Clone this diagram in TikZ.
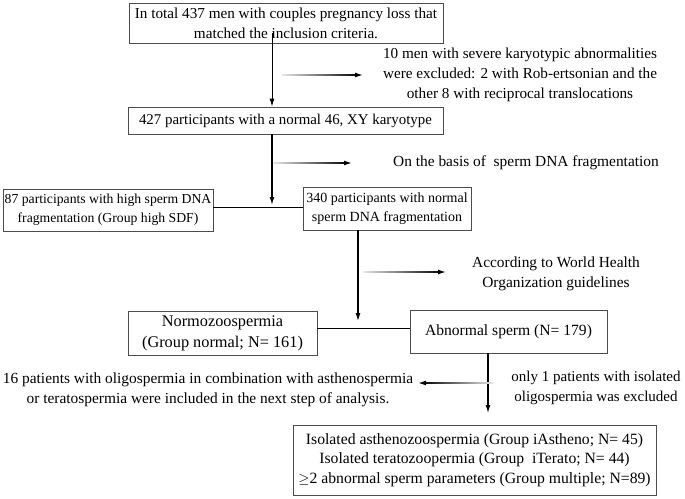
\documentclass[tikz,border=0pt]{standalone}
\usepackage{fontspec}
\setmainfont{Liberation Serif}
\usetikzlibrary{arrows.meta,calc}
\begin{document}
\begin{tikzpicture}[x=1pt,y=-1pt,
  box/.style={draw=black!70, line width=0.9pt, inner sep=0pt, align=center},
  lbl/.style={inner sep=0pt, align=center},
  fs/.style={font=\fontsize{#1}{20}\selectfont},
  conn/.style={black, line width=0.9pt},
  tip/.style={-{Latex[length=8pt,width=5pt]}}
]
\useasboundingbox (0,0) rectangle (685,498);
% boxes
\node[box, fs=15.2, minimum width=314pt, minimum height=40pt] (b1) at (286,23) {In total 437 men with couples pregnancy loss that\\matched the inclusion criteria.};
\node[box, fs=14.9, minimum width=315pt, minimum height=27pt] (b2) at (285.5,120.5) {427 participants with a normal 46, XY karyotype};
\node[box, font=\fontsize{13.7}{19}\selectfont, minimum width=210pt, minimum height=42pt] (b3) at (108,210) {87 participants with high sperm DNA\\fragmentation (Group high SDF)};
\node[box, font=\fontsize{14}{19.5}\selectfont, minimum width=168pt, minimum height=43pt] (b4) at (387,208.5) {340 participants with normal\\sperm DNA fragmentation};
\node[box, font=\fontsize{16.3}{21}\selectfont, minimum width=189pt, minimum height=44pt] (b5) at (222.5,333) {Normozoospermia\\(Group normal; N= 161)};
\node[box, fs=15.6, minimum width=197pt, minimum height=43pt] (b6) at (508.5,331.5) {Abnormal sperm (N= 179)};
\node[box, font=\fontsize{15.7}{19.5}\selectfont, minimum width=363pt, minimum height=70pt] (b7) at (474.5,460) {Isolated asthenozoospermia (Group iAstheno; N= 45)\\Isolated teratozoopermia (Group~~iTerato; N= 44)\\$\geq$2 abnormal sperm parameters (Group multiple; N=89)};
% labels
\node[lbl, fs=15.2] (t1) at (520,75) {10 men with severe karyotypic abnormalities\\were excluded: 2 with Rob-ertsonian and the\\other 8 with reciprocal translocations};
\node[lbl, fs=15.4] (t2) at (526,163) {On the basis of~~sperm DNA fragmentation};
\node[lbl, fs=15.4] (t3) at (556,274) {According to World Health\\Organization guidelines};
\node[lbl, fs=15.4] (t4) at (208,390) {16 patients with oligospermia in combination with asthenospermia\\or teratospermia were included in the next step of analysis.};
\node[lbl, fs=15] (t5) at (596,388) {only 1 patients with isolated\\oligospermia was excluded};
% coordinates
\coordinate (s1) at (272,33);
\coordinate (j1) at (272,207);
\coordinate (e1) at (272,205);
\coordinate (j2) at (358,328);
\coordinate (e2) at (358,321);
\coordinate (e3) at (488,413);
\coordinate (a1s) at (282,75); \coordinate (a1e) at (363,75);
\coordinate (a2s) at (273,163); \coordinate (a2e) at (352,163);
\coordinate (a3s) at (363,272); \coordinate (a3e) at (446,272);
\coordinate (a4s) at (493,383); \coordinate (a4e) at (418,383);
% main connectors
\draw[conn, tip] (s1) -- (b2.north -| s1);
\draw[conn, line width=1.4pt, tip] (b2.south -| e1) -- (e1);
\draw[conn] (b3.east |- j1) -- (b4.west |- j1);
\draw[conn, line width=1.2pt, tip] (b4.south -| e2) -- (e2);
\draw[conn] (b5.east |- j2) -- (b6.west |- j2);
\draw[conn, line width=1.2pt, tip] (b6.south -| e3) -- (e3);
% faded arrows
\shade[left color=black!10, right color=black] ($(a1s)+(0,-0.8)$) rectangle ($(a1e)+(-4,0.8)$);
\draw[conn, line width=1.4pt, tip] ($(a1e)+(-5,0)$) -- (a1e);
\shade[left color=black!10, right color=black] ($(a2s)+(0,-0.8)$) rectangle ($(a2e)+(-4,0.8)$);
\draw[conn, line width=1.4pt, tip] ($(a2e)+(-5,0)$) -- (a2e);
\shade[left color=black!10, right color=black] ($(a3s)+(0,-0.8)$) rectangle ($(a3e)+(-4,0.8)$);
\draw[conn, line width=1.4pt, tip] ($(a3e)+(-5,0)$) -- (a3e);
\shade[right color=black!10, left color=black] ($(a4e)+(4,-0.8)$) rectangle ($(a4s)+(0,0.8)$);
\draw[conn, line width=1.4pt, tip] ($(a4e)+(5,0)$) -- (a4e);
\end{tikzpicture}
\end{document}
